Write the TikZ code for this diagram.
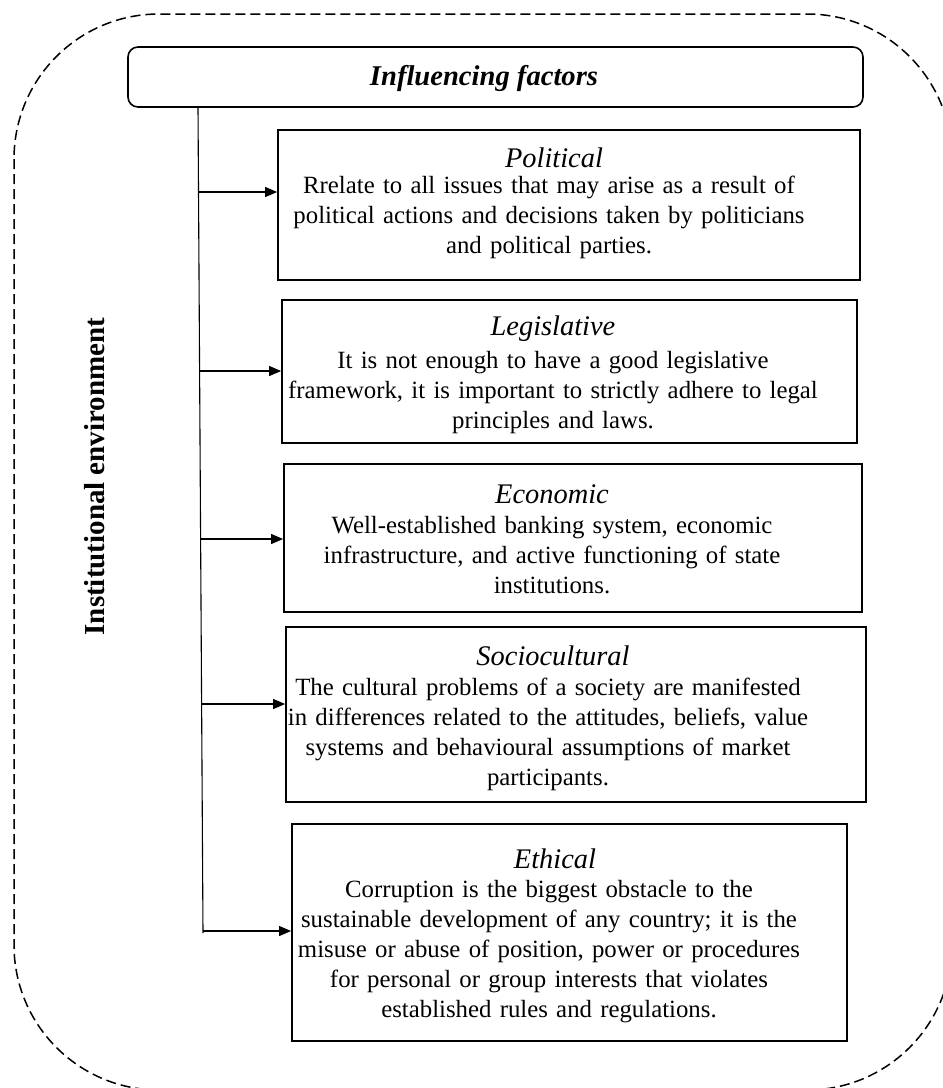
\documentclass[tikz,border=0pt]{standalone}
\usepackage{fontspec}
\setmainfont{Liberation Serif}
\usetikzlibrary{arrows.meta}
\begin{document}
\begin{tikzpicture}[x=1pt,y=-1pt,
  fbox/.style={draw, line width=1.8pt, inner sep=0pt},
  hdrbox/.style={draw, line width=1.6pt, rounded corners=10pt, inner sep=0pt},
  conn/.style={line width=1.1pt},
  arr/.style={line width=1.1pt, -{Triangle[length=12pt,width=10pt]}},
  ttl/.style={font=\fontsize{28.4}{32}\selectfont\itshape, anchor=base, inner sep=0pt},
  bodytext/.style={font=\fontsize{24.8}{30}\selectfont, text width=580pt, align=center, anchor=base, inner sep=0pt},
  outer/.style={dash pattern=on 10pt off 5pt, line width=1.5pt, rounded corners=145pt}]
\useasboundingbox (0,0) rectangle (943,1088);
\clip (0,0) rectangle (943,1088);
\draw[outer] (14,14) rectangle (952,1090);

% header
\node[hdrbox, minimum width=735pt, minimum height=60pt] (hdr) at (495.5,77) {};
\node[font=\fontsize{28.6}{32}\selectfont\bfseries\itshape, anchor=base, inner sep=0pt] (hdrt) at (484,85) {Influencing factors};

% side label
\node[rotate=90, font=\fontsize{29}{32}\selectfont\bfseries, inner sep=0pt] (lab) at (95,476.5) {Institutional environment};

% boxes
\node[fbox, minimum width=582pt, minimum height=150pt] (p1) at (569,205) {};
\node[fbox, minimum width=575pt, minimum height=143pt] (p2) at (569.5,371.5) {};
\node[fbox, minimum width=578pt, minimum height=148pt] (p3) at (573,538) {};
\node[fbox, minimum width=580pt, minimum height=175pt] (p4) at (576,714.5) {};
\node[fbox, minimum width=555pt, minimum height=217pt] (p5) at (569.5,932.5) {};

% titles
\node[ttl] (t1) at (554,167) {Political};
\node[ttl] (t2) at (553,335) {Legislative};
\node[ttl] (t3) at (552,503) {Economic};
\node[ttl] (t4) at (553,665) {Sociocultural};
\node[ttl] (t5) at (555,868) {Ethical};

% body texts
\node[bodytext] (b1) at (549,193) {Rrelate to all issues that may arise as a result of\\ political actions and decisions taken by politicians\\ and political parties.};
\node[bodytext] (b2) at (553,368) {It is not enough to have a good legislative\\ framework, it is important to strictly adhere to legal\\ principles and laws.};
\node[bodytext] (b3) at (552,533) {Well-established banking system, economic\\ infrastructure, and active functioning of state\\ institutions.};
\node[bodytext] (b4) at (548,695) {The cultural problems of a society are manifested\\ in differences related to the attitudes, beliefs, value\\ systems and behavioural assumptions of market\\ participants.};
\node[bodytext] (b5) at (549,897) {Corruption is the biggest obstacle to the\\ sustainable development of any country; it is the\\ misuse or abuse of position, power or procedures\\ for personal or group interests that violates\\ established rules and regulations.};

% connectors
\coordinate (vt) at (198,107);
\coordinate (vb) at (203,933);
\draw[conn] (vt) -- (vb);
\coordinate (s1) at (198.5,192);
\coordinate (s2) at (199.6,371);
\coordinate (s3) at (200.6,539);
\coordinate (s4) at (201.6,704);
\coordinate (s5) at (203,931);
\draw[arr] (s1) -- (s1 -| p1.west);
\draw[arr] (s2) -- (s2 -| p2.west);
\draw[arr] (s3) -- (s3 -| p3.west);
\draw[arr] (s4) -- (s4 -| p4.west);
\draw[arr] (s5) -- (s5 -| p5.west);
\end{tikzpicture}
\end{document}
